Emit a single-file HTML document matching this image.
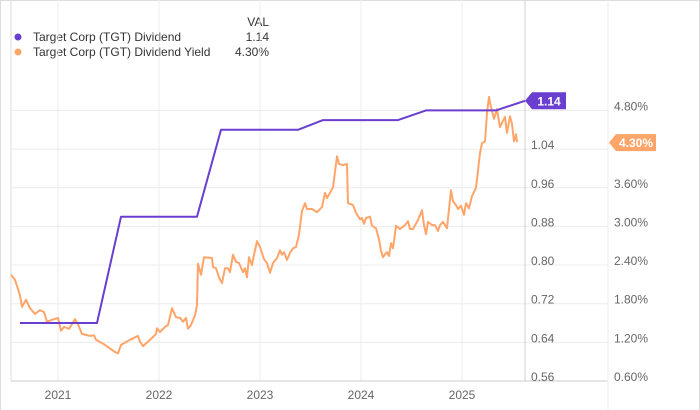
<!DOCTYPE html>
<html><head><meta charset="utf-8"><style>
html,body{margin:0;padding:0;background:#fff}
svg{display:block;font-family:"Liberation Sans",sans-serif}
</style></head><body>
<svg id="c" width="700" height="410" viewBox="0 0 700 410">
<rect x="0.5" y="0.5" width="699" height="420" fill="#fff" stroke="#ddd"/>
<g>
<text x="269" y="26" font-size="12" fill="#333" text-anchor="end">VAL</text>
<circle cx="18" cy="37" r="3.5" fill="#6a3fd0"/>
<text x="33" y="41" font-size="12" fill="#333">Target Corp (TGT) Dividend</text>
<text x="269" y="41" font-size="12" fill="#333" text-anchor="end">1.14</text>
<circle cx="18" cy="52" r="3.5" fill="#ffa56a"/>
<text x="33" y="56" font-size="12" fill="#333">Target Corp (TGT) Dividend Yield</text>
<text x="269" y="56" font-size="12" fill="#333" text-anchor="end">4.30%</text>
</g>
<g id="grid"></g>
<g id="axes"></g>
<g id="series"></g>
<g id="badges"></g>
</svg>
<script>
const divDates=[2020.624,2021.386,2021.624,2022.376,2022.614,2023.376,2023.624,2024.366,2024.644,2025.337,2025.624];
const divValues=[0.68,0.68,0.90,0.90,1.08,1.08,1.10,1.10,1.12,1.12,1.14];
const yieldDates=[2020.535,2020.574,2020.624,2020.644,2020.683,2020.723,2020.772,2020.822,2020.861,2020.891,2020.941,2021.0,2021.03,2021.059,2021.109,2021.168,2021.198,2021.238,2021.317,2021.356,2021.376,2021.465,2021.564,2021.594,2021.624,2021.713,2021.792,2021.812,2021.842,2021.911,2021.970,2021.98,2022.01,2022.059,2022.089,2022.129,2022.168,2022.208,2022.238,2022.267,2022.287,2022.317,2022.356,2022.376,2022.386,2022.416,2022.446,2022.525,2022.535,2022.564,2022.594,2022.624,2022.653,2022.683,2022.703,2022.733,2022.762,2022.792,2022.832,2022.851,2022.871,2022.891,2022.921,2022.941,2022.970,2023.0,2023.04,2023.069,2023.099,2023.129,2023.168,2023.198,2023.218,2023.238,2023.267,2023.297,2023.327,2023.356,2023.386,2023.416,2023.446,2023.465,2023.515,2023.564,2023.614,2023.644,2023.663,2023.693,2023.723,2023.762,2023.782,2023.822,2023.861,2023.871,2023.921,2023.950,2023.990,2024.01,2024.03,2024.05,2024.089,2024.109,2024.149,2024.178,2024.198,2024.218,2024.238,2024.257,2024.277,2024.297,2024.317,2024.347,2024.386,2024.436,2024.465,2024.485,2024.515,2024.564,2024.604,2024.624,2024.644,2024.663,2024.703,2024.733,2024.762,2024.782,2024.812,2024.851,2024.891,2024.911,2024.941,2024.960,2024.990,2025.02,2025.04,2025.069,2025.099,2025.139,2025.178,2025.198,2025.228,2025.248,2025.267,2025.287,2025.317,2025.347,2025.376,2025.406,2025.426,2025.446,2025.475,2025.495,2025.515,2025.535,2025.545];
const yieldValues=[2.25,2.17,1.93,1.75,1.86,1.73,1.64,1.70,1.67,1.52,1.55,1.58,1.38,1.44,1.41,1.56,1.48,1.33,1.30,1.31,1.24,1.16,1.05,1.03,1.16,1.24,1.30,1.21,1.14,1.24,1.33,1.42,1.36,1.44,1.47,1.73,1.59,1.58,1.52,1.58,1.41,1.47,1.62,1.78,2.42,2.25,2.52,2.51,2.37,2.35,2.21,2.12,2.35,2.35,2.29,2.56,2.45,2.43,2.29,2.35,2.21,2.52,2.40,2.56,2.77,2.68,2.49,2.43,2.28,2.43,2.51,2.63,2.56,2.60,2.48,2.59,2.66,2.68,2.87,3.24,3.36,3.27,3.27,3.22,3.30,3.52,3.44,3.52,3.61,4.09,3.97,3.95,3.97,3.36,3.33,3.21,3.11,3.13,3.04,3.13,3.15,3.01,2.97,2.80,2.62,2.52,2.57,2.60,2.54,2.74,2.66,3.01,2.96,3.02,3.08,2.96,2.96,3.10,3.25,3.02,2.88,3.07,3.02,3.02,2.93,3.02,3.07,2.97,3.56,3.39,3.33,3.27,3.32,3.18,3.36,3.28,3.47,3.60,4.14,4.29,4.32,4.76,5.01,4.85,4.67,4.82,4.54,4.64,4.70,4.45,4.71,4.59,4.32,4.43,4.31];
const xTickYears=[2021,2022,2023,2024,2025];
const xTickLabels=["2021","2022","2023","2024","2025"];
const divTicks=[0.56,0.64,0.72,0.80,0.88,0.96,1.04,1.12];
const divTickLabels=["0.56","0.64","0.72","0.80","0.88","0.96","1.04",""];
const yieldTicks=[0.6,1.2,1.8,2.4,3.0,3.6,4.2,4.8];
const yieldTickLabels=["0.60%","1.20%","1.80%","2.40%","3.00%","3.60%","","4.80%"];
const lastDiv="1.14", lastYield="4.30%", lastYieldVal=4.30, lastDivVal=1.14;

const NS="http://www.w3.org/2000/svg";
const X0=11,X1=525,YB=381;
function xScale(t){return 58+(t-2021)*101;}
function yDiv(v){return YB-(v-0.56)/0.08*38.65;}
function yYield(v){return YB-(v-0.6)/0.6*38.65;}
function mk(tag,attrs,parent){const e=document.createElementNS(NS,tag);for(const k in attrs)e.setAttribute(k,attrs[k]);parent.appendChild(e);return e;}
const grid=document.getElementById('grid'),axes=document.getElementById('axes'),series=document.getElementById('series'),badges=document.getElementById('badges');

divTicks.forEach((v,i)=>{
  const y=yDiv(v);
  const l=mk('line',{x1:X0,x2:608,y1:y,y2:y,stroke:i==0?'#ccc':'#ececec','stroke-width':1},grid);
  
  
  if(divTickLabels[i]){
    const t=mk('text',{x:531,y:y,'font-size':12,fill:'#666'},axes);
    t.textContent=divTickLabels[i];
    
    
  }
});
yieldTicks.forEach((v,i)=>{
  if(!yieldTickLabels[i])return;
  const t=mk('text',{x:614,y:yYield(v),'font-size':12,fill:'#666'},axes);
  t.textContent=yieldTickLabels[i];
  
  
});
xTickYears.forEach((yr,i)=>{
  const x=xScale(yr);
  const l=mk('line',{x1:x,x2:x,y1:0,y2:YB,stroke:'#ececec','stroke-width':1},grid);
  
  
  const t=mk('text',{x:x,y:399,'font-size':12,fill:'#666','text-anchor':'middle'},axes);
  t.textContent=xTickLabels[i];
  
  
});
const ax=mk('line',{x1:X1,x2:X1,y1:0,y2:YB,stroke:'#d0d0d0','stroke-width':1},axes);


const ax2=mk('line',{x1:608,x2:608,y1:0,y2:410,stroke:'#ececec','stroke-width':1},axes);


const ax3=mk('line',{x1:X0,x2:X1,y1:YB,y2:YB,stroke:'#ccc','stroke-width':1},axes);


const ax4=mk('line',{x1:X0,x2:X0,y1:0,y2:YB,stroke:'#ddd','stroke-width':1},axes);



const yp=mk('polyline',{points:yieldDates.map((d,i)=>xScale(d).toFixed(1)+','+yYield(yieldValues[i]).toFixed(1)).join(' '),fill:'none',stroke:'#ffa56a','stroke-width':2,'stroke-linejoin':'round'},series);


const dp=mk('polyline',{points:divDates.map((d,i)=>xScale(d).toFixed(1)+','+yDiv(divValues[i]).toFixed(1)).join(' '),fill:'none',stroke:'#6a3fd0','stroke-width':2,'stroke-linejoin':'round'},series);



function badge(x,y,w,color,label,name){
  const g=mk('g',{},badges);
  
  
  mk('path',{d:`M${x} ${y} L${x+7} ${y-8.5} H${x+w} V${y+8.5} H${x+7} Z`,fill:color},g);
  const t=mk('text',{x:x+7+(w-7)/2,y:y+4.5,'font-size':12,'font-weight':'bold',fill:'#fff','text-anchor':'middle'},g);
  t.textContent=label;
}
badge(X1,yDiv(lastDivVal),41,'#6a3fd0',lastDiv,'dividend-last-value-badge');
badge(609,yYield(lastYieldVal),47,'#ffa56a',lastYield,'yield-last-value-badge');
</script>
</body></html>
